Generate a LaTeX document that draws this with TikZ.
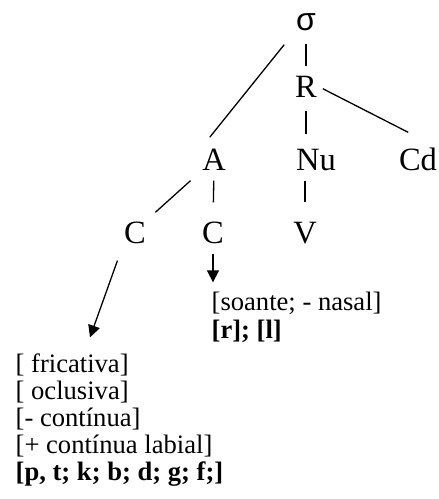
\documentclass[tikz,border=0pt]{standalone}
\usepackage{fontspec}
\setmainfont{Liberation Serif}
\newfontfamily\sigmafont{Liberation Sans}
\usetikzlibrary{arrows.meta}

\begin{document}
\begin{tikzpicture}[x=1pt, y=-1pt, line width=1.3pt,
		gross/.style={inner sep=0pt, text height=22pt, text depth=0pt, anchor=base, font=\fontsize{32.5}{38}\selectfont},
		klein/.style={inner sep=0pt, text height=18pt, text depth=5pt, anchor=base west, font=\fontsize{26.6}{30}\selectfont},
		pfeil/.style={-{Triangle[length=12pt,width=12pt]}}]

		% Rahmen
		\useasboundingbox (0,0) rectangle (439,499);

		% --- Silbenbaum ---
		\node[gross, text height=16pt, font=\fontsize{32}{38}\sigmafont] (sigma) at (306,30) {σ};
		\node[gross] (R) at (306,97) {R};
		\node[gross] (A) at (214,170) {A};
		\node[gross] (Nu) at (316,170) {Nu};
		\node[gross] (Cd) at (418,170) {Cd};
		\node[gross] (C1) at (135,243) {C};
		\node[gross] (C2) at (213,243) {C};
		\node[gross] (V) at (305,243) {V};

		% --- Merkmale ---
		\node[klein] (son) at (211,310) {[soante; - nasal]};
		\node[klein, font=\fontsize{26.6}{30}\selectfont\bfseries] (son2) at (211,338) {[r]; [l]};
		\node[klein] (m1) at (15,372) {[ fricativa]};
		\node[klein] (m2) at (15,399) {[ oclusiva]};
		\node[klein] (m3) at (15,426) {[- contínua]};
		\node[klein] (m4) at (15,453) {[+ contínua labial]};
		\node[klein, font=\fontsize{26.6}{30}\selectfont\bfseries] (m5) at (15,480) {[p, t; k; b; d; g; f;]};

		% Kanten
		\draw[shorten <=13pt, shorten >=8pt] (sigma.south) -- (R.north);
		\draw[shorten <=18pt, shorten >=13pt] (sigma.south west) -- (A.north west);
		\draw[shorten <=6pt, shorten >=33pt] (R.east) -- (Cd.north east);
		\draw[shorten <=13pt, shorten >=13pt] (R.south) -- (R.south |- Nu.north);
		\draw[shorten <=10pt, shorten >=18pt] (A.south) -- (C2.north);
		\draw[shorten <=10pt, shorten >=18pt] (V.north |- Nu.south) -- (V.north);
		\draw[shorten <=15pt, shorten >=12pt] (A.south west) -- (C1.north east);

		% Pfeile
		\draw[pfeil, shorten <=10pt, shorten >=9pt] (C2.south) -- (C2.south |- son.north);
		\draw[pfeil, shorten <=18pt, shorten >=17pt] (C1.south west) -- (m1.45);

	\end{tikzpicture}
\end{document}
